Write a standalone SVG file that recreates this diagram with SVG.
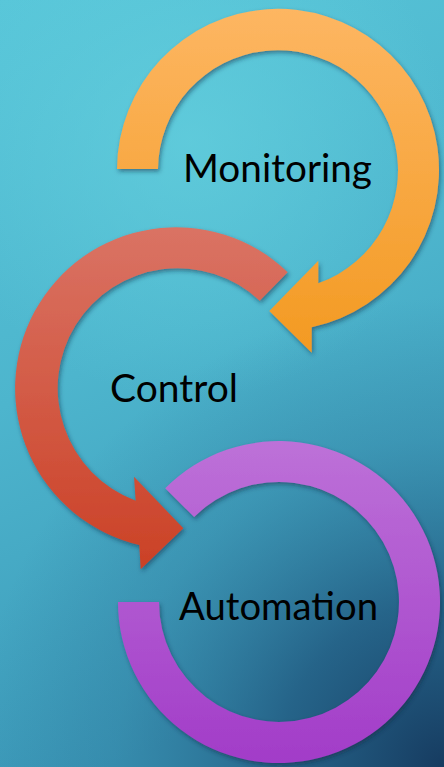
<svg xmlns="http://www.w3.org/2000/svg" width="444" height="767" viewBox="0 0 444 767">
  <defs>
    <linearGradient id="bgLin" x1="0" y1="0" x2="0.25" y2="1">
      <stop offset="0" stop-color="#58C6D9"/>
      <stop offset="0.5" stop-color="#4DB5CD"/>
      <stop offset="1" stop-color="#3B98B8"/>
    </linearGradient>
    <radialGradient id="bgTop" gradientUnits="userSpaceOnUse" cx="190" cy="140" r="260">
      <stop offset="0" stop-color="#64D0DE" stop-opacity="0.7"/>
      <stop offset="1" stop-color="#64D0DE" stop-opacity="0"/>
    </radialGradient>
    <radialGradient id="bgDark" gradientUnits="userSpaceOnUse" cx="444" cy="767" r="470">
      <stop offset="0" stop-color="#163B60" stop-opacity="1"/>
      <stop offset="0.35" stop-color="#1E5279" stop-opacity="0.75"/>
      <stop offset="0.7" stop-color="#2A6F93" stop-opacity="0.3"/>
      <stop offset="1" stop-color="#2A6F93" stop-opacity="0"/>
    </radialGradient>
    <linearGradient id="gOrange" x1="0" y1="0" x2="0" y2="1">
      <stop offset="0" stop-color="#FDB662"/>
      <stop offset="1" stop-color="#F39A22"/>
    </linearGradient>
    <linearGradient id="gRed" x1="0" y1="0" x2="0" y2="1">
      <stop offset="0" stop-color="#DA7364"/>
      <stop offset="1" stop-color="#CB4126"/>
    </linearGradient>
    <linearGradient id="gPurple" x1="0" y1="0" x2="0" y2="1">
      <stop offset="0" stop-color="#BD71D8"/>
      <stop offset="1" stop-color="#A23CC8"/>
    </linearGradient>
    <filter id="shadow" x="-10%" y="-10%" width="125%" height="125%">
      <feDropShadow dx="1.5" dy="2.5" stdDeviation="2" flood-color="#0B2A40" flood-opacity="0.5"/>
    </filter>
  </defs>
  <style>
    .label { font-family: Lato, "Liberation Sans", sans-serif; font-size: 38px; fill: #000000; }
    .ring { filter: url(#shadow); }
  </style>

  <rect x="0" y="0" width="444" height="767" fill="url(#bgLin)"/>
  <rect x="0" y="0" width="444" height="767" fill="url(#bgTop)"/>
  <rect x="0" y="0" width="444" height="767" fill="url(#bgDark)"/>

  <g id="node-automation">
    <path class="ring" fill="url(#gPurple)" d="M 165.2 488.2 A 161 161 0 1 1 118 602 L 159 602 A 120 120 0 1 0 194.1 517.1 Z"/>
    <text class="label" x="179" y="620" textLength="199" lengthAdjust="spacingAndGlyphs">Automation</text>
  </g>

  <g id="node-control">
    <path class="ring" fill="url(#gRed)" d="M 287.7 272.2 A 161 161 0 1 0 139.3 545 L 140.7 569.3 L 183.3 528.3 L 134 476.7 L 135.7 500.7 A 120 120 0 1 1 259.7 300.7 Z"/>
    <text class="label" x="110" y="402" textLength="128" lengthAdjust="spacingAndGlyphs">Control</text>
  </g>

  <g id="node-monitoring">
    <path class="ring" fill="url(#gOrange)" d="M 117 169 A 161 161 0 1 1 311.7 327.3 L 311.7 352.7 L 269.3 311 L 318.3 260.7 L 318.3 283.3 A 120 120 0 1 0 158 169 Z"/>
    <text class="label" x="183" y="182" textLength="189" lengthAdjust="spacingAndGlyphs">Monitoring</text>
  </g>

  <g id="connectors"></g>
</svg>
